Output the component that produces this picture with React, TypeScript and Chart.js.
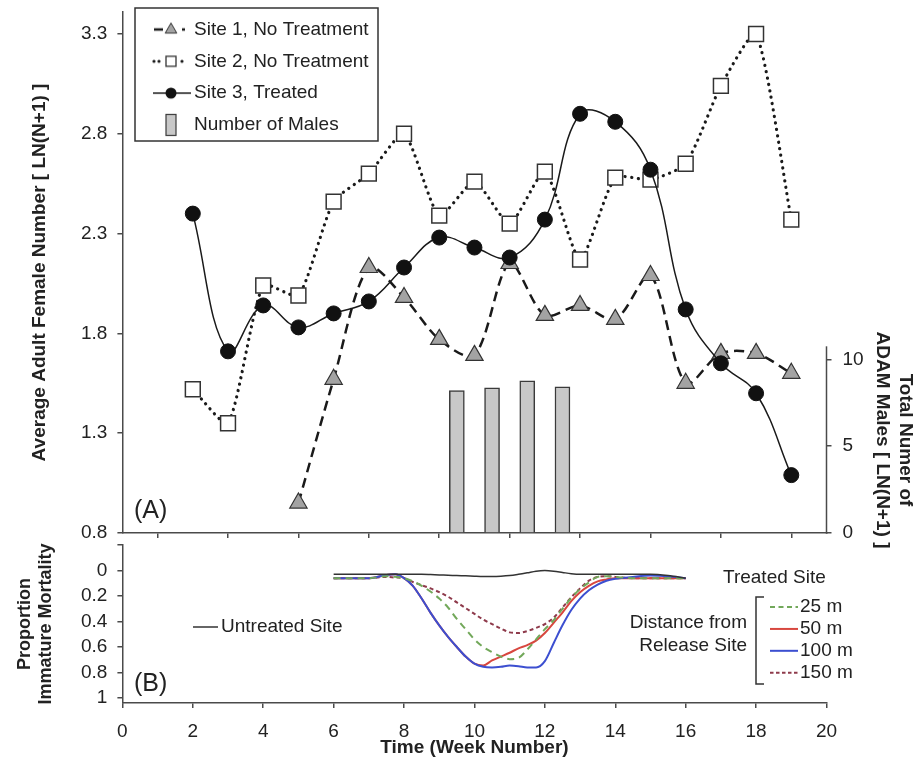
import React, { useEffect, useRef } from 'react';
import { Chart, registerables } from 'chart.js';

Chart.register(...registerables);

const FONT = "'Liberation Sans', Arial, Helvetica, sans-serif";
Chart.defaults.font.family = FONT;
Chart.defaults.color = '#222';

// ---------- Panel A data ----------
const weeks = [2, 3, 4, 5, 6, 7, 8, 9, 10, 11, 12, 13, 14, 15, 16, 17, 18, 19];
const site1Weeks = [5, 6, 7, 8, 9, 10, 11, 12, 13, 14, 15, 16, 17, 18, 19];
const site1 = [0.95, 1.57, 2.13, 1.98, 1.77, 1.69, 2.15, 1.89, 1.94, 1.87, 2.09, 1.55, 1.7, 1.7, 1.6];
const site2 = [1.52, 1.35, 2.04, 1.99, 2.46, 2.6, 2.8, 2.39, 2.56, 2.35, 2.61, 2.17, 2.58, 2.57, 2.65, 3.04, 3.3, 2.37];
const site3 = [2.4, 1.71, 1.94, 1.83, 1.9, 1.96, 2.13, 2.28, 2.23, 2.18, 2.37, 2.9, 2.86, 2.62, 1.92, 1.65, 1.5, 1.09];
const maleWeeks = [9.5, 10.5, 11.5, 12.5];
const males = [8.2, 8.36, 8.76, 8.42];
const yTicksA = [0.8, 1.3, 1.8, 2.3, 2.8, 3.3];
const yTicksRight = [0, 5, 10];
const legendA = ['Site 1, No Treatment', 'Site 2, No Treatment', 'Site 3, Treated', 'Number of Males'];

// ---------- Panel B data ----------
const weeksB = [6, 6.5, 7, 7.5, 7.75, 8, 8.25, 8.5, 8.75, 9, 9.25, 9.5, 9.75, 10, 10.25, 10.5, 10.75, 11, 11.25, 11.5, 11.75, 12, 12.25, 12.5, 12.75, 13, 13.25, 13.5, 13.75, 14, 14.5, 15, 15.5, 16];
const untreated = [0.03, 0.03, 0.03, 0.03, 0.03, 0.03, 0.03, 0.03, 0.032, 0.035, 0.037, 0.04, 0.042, 0.045, 0.047, 0.047, 0.045, 0.04, 0.03, 0.018, 0.005, 0, 0.005, 0.015, 0.025, 0.03, 0.03, 0.03, 0.03, 0.03, 0.03, 0.03, 0.04, 0.06];
const m25 = [0.06, 0.06, 0.06, 0.045, 0.05, 0.06, 0.085, 0.12, 0.165, 0.22, 0.29, 0.38, 0.46, 0.54, 0.6, 0.64, 0.675, 0.695, 0.685, 0.62, 0.54, 0.46, 0.39, 0.3, 0.215, 0.145, 0.095, 0.05, 0.045, 0.05, 0.06, 0.06, 0.06, 0.06];
const m50 = [0.06, 0.06, 0.06, 0.035, 0.03, 0.06, 0.12, 0.22, 0.33, 0.43, 0.52, 0.6, 0.675, 0.73, 0.745, 0.705, 0.675, 0.645, 0.61, 0.585, 0.55, 0.49, 0.41, 0.33, 0.24, 0.17, 0.12, 0.085, 0.07, 0.06, 0.06, 0.06, 0.06, 0.06];
const m100 = [0.06, 0.06, 0.06, 0.035, 0.03, 0.06, 0.12, 0.22, 0.33, 0.43, 0.52, 0.6, 0.675, 0.73, 0.755, 0.76, 0.755, 0.745, 0.75, 0.76, 0.76, 0.71, 0.57, 0.43, 0.31, 0.22, 0.155, 0.11, 0.08, 0.065, 0.05, 0.04, 0.045, 0.06];
const m150 = [0.06, 0.06, 0.06, 0.05, 0.055, 0.06, 0.09, 0.115, 0.14, 0.17, 0.205, 0.25, 0.295, 0.34, 0.385, 0.42, 0.455, 0.485, 0.49, 0.475, 0.45, 0.42, 0.37, 0.29, 0.21, 0.14, 0.08, 0.05, 0.045, 0.05, 0.06, 0.06, 0.06, 0.06];
const yTicksB = [-0.2, 0, 0.2, 0.4, 0.6, 0.8, 1];
const legendB = ['25 m', '50 m', '100 m', '150 m'];

const AX = '#4a4a4a';
const H_A = 560;
const TOP_B = 540;
const FS = 19;
const GREEN = '#72a85a';
const RED = '#d8473f';
const BLUE = '#3c4fd0';
const BROWN = '#8e3a4b';

const pts = (xs: number[], ys: number[]) => xs.map((x, i) => ({ x, y: ys[i] }));

function mk(w: number, h: number, draw: (c: CanvasRenderingContext2D) => void) {
  const c = document.createElement('canvas');
  c.width = w;
  c.height = h;
  const ctx = c.getContext('2d') as CanvasRenderingContext2D;
  draw(ctx);
  return c;
}

function seg(c: CanvasRenderingContext2D, x1: number, x2: number, y: number) {
  c.beginPath();
  c.moveTo(x1, y);
  c.lineTo(x2, y);
  c.stroke();
}

function axisCommon() {
  return {
    grid: { drawOnChartArea: false, drawTicks: true, tickLength: 5, color: AX, lineWidth: 1.5 },
    border: { display: true, color: AX, width: 1.5 },
  };
}

const fixW = (w: number) => (s: any) => {
  s.width = w;
  s.paddingTop = 0;
  s.paddingBottom = 0;
  s.paddingLeft = 0;
  s.paddingRight = 0;
};
const fixH = (h: number) => (s: any) => {
  s.height = h;
  s.paddingTop = 0;
  s.paddingBottom = 0;
  s.paddingLeft = 0;
  s.paddingRight = 0;
};

export default function App() {
  const refA = useRef<HTMLCanvasElement>(null);
  const refB = useRef<HTMLCanvasElement>(null);

  useEffect(() => {
    // legend sample images
    const imgS1 = mk(40, 22, (c) => {
      c.strokeStyle = '#1a1a1a';
      c.lineWidth = 2.5;
      seg(c, 3, 12, 11);
      seg(c, 31, 34, 11);
      c.beginPath();
      c.moveTo(20, 11 - 6.5);
      c.lineTo(20 + 5.8, 11 + 3.6);
      c.lineTo(20 - 5.8, 11 + 3.6);
      c.closePath();
      c.fillStyle = '#a3a3a3';
      c.fill();
      c.lineWidth = 1;
      c.strokeStyle = '#333';
      c.stroke();
    });
    const imgS2 = mk(40, 22, (c) => {
      c.fillStyle = '#1a1a1a';
      [3, 8, 31].forEach((x) => {
        c.beginPath();
        c.arc(x, 11, 1.6, 0, Math.PI * 2);
        c.fill();
      });
      c.fillStyle = '#fff';
      c.fillRect(15, 6, 10, 10);
      c.strokeStyle = '#333';
      c.lineWidth = 1.3;
      c.strokeRect(15, 6, 10, 10);
    });
    const imgS3 = mk(40, 22, (c) => {
      c.strokeStyle = '#1a1a1a';
      c.lineWidth = 1.5;
      seg(c, 2, 40, 11);
      c.fillStyle = '#111';
      c.beginPath();
      c.arc(20, 11, 5.5, 0, Math.PI * 2);
      c.fill();
    });
    const imgBar = mk(40, 24, (c) => {
      c.fillStyle = '#c8c8c8';
      c.fillRect(15, 1.5, 10, 21);
      c.strokeStyle = '#3a3a3a';
      c.lineWidth = 1.2;
      c.strokeRect(15, 1.5, 10, 21);
    });
    const lineImg = (color: string, dash: number[]) =>
      mk(28, 6, (c) => {
        c.strokeStyle = color;
        c.lineWidth = 2;
        c.setLineDash(dash);
        seg(c, 0, 28, 3);
      });
    const imgsA = [imgS1, imgS2, imgS3, imgBar];
    const imgsB = [lineImg(GREEN, [5, 3.5]), lineImg(RED, []), lineImg(BLUE, []), lineImg(BROWN, [3.5, 2.5])];

    const panelA = {
      id: 'panelA',
      afterDraw(chart: any) {
        const ctx = chart.ctx as CanvasRenderingContext2D;
        const ca = chart.chartArea;
        const y2 = chart.scales.y2;
        ctx.save();
        ctx.strokeStyle = AX;
        ctx.lineWidth = 1.5;
        ctx.beginPath();
        ctx.moveTo(ca.right, y2.getPixelForValue(0) + 0.75);
        ctx.lineTo(ca.right, y2.getPixelForValue(10.75));
        ctx.stroke();
        // legend
        ctx.fillStyle = '#fff';
        ctx.fillRect(135, 8, 243, 133);
        ctx.strokeStyle = '#333';
        ctx.lineWidth = 1.5;
        ctx.strokeRect(135, 8, 243, 133);
        ctx.fillStyle = '#222';
        ctx.font = `${FS}px ${FONT}`;
        ctx.textAlign = 'left';
        ctx.textBaseline = 'middle';
        legendA.forEach((t, i) => {
          const cy = 29.5 + i * 31.8;
          const im = imgsA[i];
          ctx.drawImage(im, 171 - im.width / 2, cy - im.height / 2);
          ctx.fillText(t, 194, cy);
        });
        // panel label
        ctx.font = `25px ${FONT}`;
        ctx.fillText('(A)', 134, 511);
        // right axis title
        ctx.font = `bold ${FS}px ${FONT}`;
        ctx.textAlign = 'center';
        ctx.translate(905, 440);
        ctx.rotate(Math.PI / 2);
        ctx.fillText('Total Numer of', 0, 0);
        ctx.fillText('ADAM Males [ LN(N+1) ]', 0, 23);
        ctx.restore();
      },
    };

    const chartA = new Chart(refA.current as HTMLCanvasElement, {
      type: 'line',
      data: {
        datasets: [
          {
            label: 'Site 1, No Treatment',
            data: pts(site1Weeks, site1),
            borderColor: '#1a1a1a',
            borderWidth: 2.5,
            borderDash: [10, 6],
            tension: 0.3,
            pointStyle: 'triangle',
            pointRadius: 10,
            pointBackgroundColor: '#a3a3a3',
            pointBorderColor: '#333',
            pointBorderWidth: 1.2,
            yAxisID: 'y',
            order: 2,
          } as any,
          {
            label: 'Site 2, No Treatment',
            data: pts(weeks, site2),
            borderColor: '#1a1a1a',
            borderWidth: 3.2,
            borderDash: [0.1, 6.4],
            borderCapStyle: 'round',
            tension: 0.2,
            pointStyle: 'rect',
            pointRadius: 10.5,
            pointBackgroundColor: '#fff',
            pointBorderColor: '#333',
            pointBorderWidth: 1.5,
            yAxisID: 'y',
            order: 1,
          } as any,
          {
            label: 'Site 3, Treated',
            data: pts(weeks, site3),
            borderColor: '#1a1a1a',
            borderWidth: 1.5,
            tension: 0.4,
            pointStyle: 'circle',
            pointRadius: 7.5,
            pointBackgroundColor: '#111',
            pointBorderColor: '#111',
            pointBorderWidth: 1,
            yAxisID: 'y',
            order: 0,
          } as any,
          {
            type: 'bar',
            label: 'Number of Males',
            data: pts(maleWeeks, males),
            backgroundColor: '#c8c8c8',
            borderColor: '#3a3a3a',
            borderWidth: 1.5,
            barThickness: 15,
            yAxisID: 'y2',
            order: 3,
          } as any,
        ],
      },
      options: {
        responsive: false,
        maintainAspectRatio: false,
        animation: false,
        layout: { padding: { top: 10, left: 0, right: 0, bottom: 0 } },
        plugins: {
          tooltip: { enabled: false },
          legend: { display: false },
        },
        scales: {
          x: {
            type: 'linear',
            min: 0,
            max: 20,
            offset: false,
            ticks: { display: false, stepSize: 2, autoSkip: false },
            ...axisCommon(),
            afterFit: fixH(H_A - 533),
          } as any,
          y: {
            type: 'linear',
            position: 'left',
            min: 0.8,
            max: 3.41,
            afterBuildTicks: (s: any) => {
              s.ticks = yTicksA.map((v) => ({ value: v }));
            },
            ticks: {
              font: { size: FS },
              color: '#222',
              padding: 10,
              autoSkip: false,
              callback: (v: any) => Number(v).toFixed(1),
            },
            ...axisCommon(),
            title: {
              display: true,
              text: 'Average Adult Female Number [ LN(N+1) ]',
              font: { size: FS, weight: 'bold' },
              color: '#222',
              padding: { top: 28, bottom: 0 },
            },
            afterFit: fixW(122.4),
          } as any,
          y2: {
            type: 'linear',
            position: 'right',
            min: 0,
            max: 30,
            afterBuildTicks: (s: any) => {
              s.ticks = yTicksRight.map((v) => ({ value: v }));
            },
            ticks: {
              font: { size: FS },
              color: '#222',
              padding: 11,
              autoSkip: false,
              callback: (v: any) => String(v),
            },
            grid: { drawOnChartArea: false, drawTicks: true, tickLength: 5, color: AX, lineWidth: 1.5 },
            border: { display: false },
            afterFit: fixW(95.5),
          } as any,
        },
      },
      plugins: [panelA],
    } as any);

    const panelB = {
      id: 'panelB',
      afterDraw(chart: any) {
        const ctx = chart.ctx as CanvasRenderingContext2D;
        const Y = (y: number) => y - TOP_B;
        ctx.save();
        ctx.fillStyle = '#222';
        ctx.textBaseline = 'middle';
        ctx.textAlign = 'left';
        ctx.font = `25px ${FONT}`;
        ctx.fillText('(B)', 134, Y(684));
        ctx.font = `${FS}px ${FONT}`;
        // untreated annotation
        ctx.strokeStyle = '#333';
        ctx.lineWidth = 1.5;
        seg(ctx, 193, 218, Y(627));
        ctx.fillText('Untreated Site', 221, Y(627));
        ctx.fillText('Treated Site', 723, Y(577.5));
        legendB.forEach((t, i) => {
          const cy = Y(607 + i * 21.9);
          const im = imgsB[i];
          ctx.drawImage(im, 784 - im.width / 2, cy - im.height / 2);
          ctx.fillText(t, 800, cy);
        });
        ctx.textAlign = 'right';
        ctx.fillText('Distance from', 747, Y(623));
        ctx.fillText('Release Site', 747, Y(646));
        // bracket
        ctx.strokeStyle = '#333';
        ctx.lineWidth = 1.5;
        ctx.beginPath();
        ctx.moveTo(764, Y(597));
        ctx.lineTo(756, Y(597));
        ctx.lineTo(756, Y(684));
        ctx.lineTo(764, Y(684));
        ctx.stroke();
        ctx.restore();
      },
    };

    const lineDs = (label: string, ys: number[], color: string, width: number, dash: number[], order: number) => ({
      label,
      data: pts(weeksB, ys),
      borderColor: color,
      borderWidth: width,
      borderDash: dash,
      pointRadius: 0,
      cubicInterpolationMode: 'monotone',
      order,
    });

    const chartB = new Chart(refB.current as HTMLCanvasElement, {
      type: 'line',
      data: {
        datasets: [
          lineDs('Untreated Site', untreated, '#333', 1.5, [], 0),
          lineDs('25 m', m25, GREEN, 2, [7, 5], 1),
          lineDs('50 m', m50, RED, 2, [], 3),
          lineDs('100 m', m100, BLUE, 2, [], 2),
          lineDs('150 m', m150, BROWN, 2, [4, 3], 4),
        ] as any,
      },
      options: {
        responsive: false,
        maintainAspectRatio: false,
        animation: false,
        layout: { padding: { top: 5, left: 0, right: 95.5, bottom: 0 } },
        plugins: {
          tooltip: { enabled: false },
          legend: { display: false },
        },
        scales: {
          x: {
            type: 'linear',
            min: 0,
            max: 20,
            offset: false,
            ticks: { stepSize: 2, font: { size: FS }, color: '#222', padding: 12, maxRotation: 0, autoSkip: false },
            ...axisCommon(),
            title: {
              display: true,
              text: 'Time (Week Number)',
              font: { size: FS, weight: 'bold' },
              color: '#222',
              padding: { top: 0, bottom: 4 },
            },
            afterFit: fixH(60),
          } as any,
          y: {
            type: 'linear',
            position: 'left',
            min: -0.2,
            max: 1.039,
            reverse: true,
            afterBuildTicks: (s: any) => {
              s.ticks = yTicksB.map((v) => ({ value: v }));
            },
            ticks: {
              font: { size: FS },
              color: '#222',
              padding: 10,
              autoSkip: false,
              callback: (v: any) => (Number(v) < -0.1 ? '' : String(Number(Number(v).toFixed(1)))),
            },
            ...axisCommon(),
            title: {
              display: true,
              text: ['Proportion', 'Immature Mortality'],
              font: { size: 18, weight: 'bold' },
              color: '#222',
              padding: { top: 14, bottom: 0 },
            },
            afterFit: fixW(122.4),
          } as any,
        },
      },
      plugins: [panelB],
    } as any);

    return () => {
      chartA.destroy();
      chartB.destroy();
    };
  }, []);

  return (
    <div style={{ position: 'fixed', left: 0, top: 0, width: 922, height: 763, background: '#fff' }}>
      <canvas ref={refA} width={922} height={H_A} style={{ position: 'absolute', left: 0, top: 0 }} />
      <canvas ref={refB} width={922} height={223} style={{ position: 'absolute', left: 0, top: TOP_B }} />
    </div>
  );
}
